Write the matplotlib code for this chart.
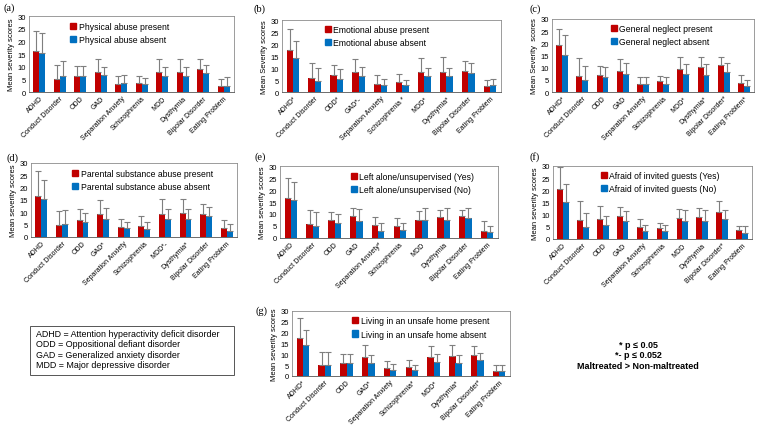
import matplotlib
matplotlib.use("Agg")
import matplotlib.pyplot as plt
import numpy as np
from matplotlib.patches import Patch, Rectangle

plt.rcParams['font.family'] = ['Liberation Sans', 'DejaVu Sans']

categories = ["ADHD", "Conduct Disorder", "ODD", "GAD", "Separation Anxiety",
              "Schizophrenia", "MDD", "Dysthymia", "Bipolar Disorder", "Eating Problem"]

# significance marks appended to category labels per panel
marks_a = ["", "", "", "", "", "", "", "", "", ""]
marks_b = ["*", "", "*", "*-", "", " *", "*", "*", "", ""]
marks_c = ["*", "", "", "", "", "", "*", "*", "*", "*"]
marks_d = ["", "", "", "*", "", "", "*-", "*", "", ""]
marks_e = ["", "", "", "", "*", "", "", "", "", ""]
marks_f = ["", "", "", "", "", "", "", "", "*", ""]
marks_g = ["*", "", "", "*", "", "*", "*", "*", "*", ""]

# (a) Physical abuse
a_present = [16.0, 5.0, 6.3, 7.7, 3.3, 3.6, 8.0, 8.0, 8.9, 2.5]
a_present_sd = [7.9, 5.7, 4.1, 5.2, 3.0, 2.8, 4.9, 4.9, 4.0, 2.8]
a_absent = [15.2, 6.3, 6.3, 6.6, 3.6, 3.0, 6.4, 6.4, 7.4, 2.5]
a_absent_sd = [8.0, 6.0, 4.1, 3.4, 3.0, 2.5, 3.6, 3.3, 3.4, 3.5]
# (b) Emotional abuse
b_present = [17.4, 5.7, 7.2, 8.2, 3.5, 4.1, 8.4, 8.4, 8.9, 2.5]
b_present_sd = [8.7, 6.5, 4.2, 5.4, 3.4, 3.2, 5.6, 6.0, 4.0, 2.7]
b_absent = [14.3, 4.6, 5.3, 6.7, 2.8, 2.75, 6.7, 6.6, 8.1, 2.75]
b_absent_sd = [6.9, 5.4, 4.1, 3.7, 2.8, 2.05, 3.5, 3.3, 3.9, 2.85]
# (c) General neglect
c_present = [19.2, 6.7, 7.1, 8.7, 3.1, 4.5, 9.5, 10.1, 11.0, 3.8]
c_present_sd = [6.8, 7.1, 3.5, 4.8, 3.0, 2.2, 4.7, 4.2, 3.3, 3.3]
c_absent = [15.1, 5.0, 6.0, 7.2, 3.4, 3.3, 7.2, 7.1, 8.3, 2.5]
c_absent_sd = [8.2, 5.6, 4.4, 4.7, 2.7, 2.7, 4.3, 4.4, 3.6, 2.5]
# (d) Parental substance abuse
d_present = [16.7, 4.9, 6.7, 9.3, 4.2, 4.3, 9.3, 9.6, 9.3, 3.5]
d_present_sd = [10.2, 5.8, 4.6, 5.8, 3.2, 4.1, 6.3, 5.7, 4.1, 3.5]
d_absent = [15.5, 5.3, 6.0, 7.1, 3.5, 3.3, 7.1, 7.1, 8.5, 2.5]
d_absent_sd = [7.5, 5.7, 3.9, 4.5, 2.5, 2.6, 4.3, 4.3, 3.6, 2.8]
# (e) Left alone/unsupervised
e_present = [16.8, 5.9, 7.7, 9.0, 5.4, 4.9, 7.7, 8.7, 9.0, 2.8]
e_present_sd = [8.1, 5.6, 3.1, 3.3, 3.5, 3.4, 3.4, 3.0, 2.7, 4.1]
e_absent = [15.8, 5.2, 6.1, 7.0, 3.1, 3.2, 7.5, 7.5, 8.5, 2.5]
e_absent_sd = [7.7, 5.8, 3.9, 5.0, 3.0, 2.9, 4.8, 4.9, 3.8, 2.7]
# (f) Afraid of invited guests
f_present = [20.4, 8.0, 8.4, 9.5, 5.0, 4.4, 8.7, 8.9, 11.0, 3.6]
f_present_sd = [9.0, 7.5, 5.1, 3.7, 3.3, 2.2, 3.5, 4.0, 4.8, 1.9]
f_absent = [15.3, 5.0, 5.9, 7.6, 3.4, 3.4, 7.6, 7.6, 8.4, 2.5]
f_absent_sd = [7.4, 5.5, 3.7, 4.1, 2.4, 2.4, 4.2, 4.2, 3.4, 2.7]
# (g) Living in an unsafe home
g_present = [17.7, 5.3, 6.1, 8.8, 3.8, 4.2, 8.6, 9.1, 9.6, 2.5]
g_present_sd = [9.0, 6.0, 4.1, 5.5, 3.0, 3.3, 5.4, 5.2, 4.4, 2.5]
g_absent = [14.1, 5.2, 6.0, 6.0, 2.8, 2.8, 6.6, 6.1, 7.4, 2.5]
g_absent_sd = [7.1, 5.8, 4.2, 3.9, 2.9, 2.4, 3.4, 3.6, 3.3, 2.5]

yticks = [0, 5, 10, 15, 20, 25, 30]

RED = '#C00000'
BLUE = '#0070C0'
ERR = '#7f7f7f'

W, H = 764, 431
fig = plt.figure(figsize=(W / 100, H / 100), dpi=100)


def px_axes(l, t, r, b):
    return fig.add_axes([l / W, 1 - b / H, (r - l) / W, (b - t) / H])


panels = [
    ("(a)", (29, 17, 234, 93), "Mean severity scores",
     ("Physical abuse present", "Physical abuse absent"), 0.20, 0.92,
     (a_present, a_present_sd, a_absent, a_absent_sd), marks_a, (3, 8)),
    ("(b)", (282, 21, 501, 93), "Mean Severity scores",
     ("Emotional abuse present", "Emotional abuse absent"), 0.195, 0.93,
     (b_present, b_present_sd, b_absent, b_absent_sd), marks_b, (254, 9)),
    ("(c)", (552, 20, 754, 93), "Mean Severity  scores",
     ("General neglect present", "General neglect absent"), 0.29, 0.93,
     (c_present, c_present_sd, c_absent, c_absent_sd), marks_c, (530, 9)),
    ("(d)", (31, 164, 237, 238), "Mean severity scores",
     ("Parental substance abuse present", "Parental substance abuse absent"), 0.20, 0.92,
     (d_present, d_present_sd, d_absent, d_absent_sd), marks_d, (7, 158)),
    ("(e)", (280, 167, 498, 239), "Mean severity scores",
     ("Left alone/unsupervised (Yes)", "Left alone/unsupervised (No)"), 0.325, 0.92,
     (e_present, e_present_sd, e_absent, e_absent_sd), marks_e, (255, 157)),
    ("(f)", (553, 167, 752, 240), "Mean severity scores",
     ("Afraid of invited guests (Yes)", "Afraid of invited guests (No)"), 0.24, 0.93,
     (f_present, f_present_sd, f_absent, f_absent_sd), marks_f, (530, 157)),
    ("(g)", (292, 312, 510, 377), "Mean severity scores",
     ("Living in an unsafe home present", "Living in an unsafe home absent"), 0.275, 0.92,
     (g_present, g_present_sd, g_absent, g_absent_sd), marks_g, (256, 311)),
]

bw = 0.29
x = np.arange(len(categories))
for letter, rect, ylab, leg, lx, ly, data, marks, lpos in panels:
    ax = px_axes(*rect)
    pm, psd, am, asd = data
    ax.bar(x - bw / 2, pm, bw, color=RED, zorder=2)
    ax.bar(x + bw / 2, am, bw, color=BLUE, zorder=2)
    ax.errorbar(x - bw / 2, pm, yerr=[np.zeros(len(pm)), psd], fmt='none',
                ecolor=ERR, elinewidth=0.8, capsize=2, capthick=0.8, zorder=3)
    ax.errorbar(x + bw / 2, am, yerr=[np.zeros(len(am)), asd], fmt='none',
                ecolor=ERR, elinewidth=0.8, capsize=2, capthick=0.8, zorder=3)
    ax.set_xlim(-0.5, len(categories) - 0.5)
    ax.set_ylim(0, 30)
    ax.set_yticks(yticks)
    ax.tick_params(axis='y', labelsize=5.5, length=0, pad=2)
    ax.tick_params(axis='x', length=0, pad=2)
    ax.set_xticks(x)
    ax.set_xticklabels([c + m for c, m in zip(categories, marks)], rotation=45,
                       ha='right', rotation_mode='anchor', fontsize=5)
    ax.set_ylabel(ylab, fontsize=5.5, labelpad=2)
    for s in ax.spines.values():
        s.set_color('#8c8c8c')
        s.set_linewidth(0.6)
    ax.spines['bottom'].set_color('#555555')
    handles = [Patch(color=RED), Patch(color=BLUE)]
    ax.legend(handles, leg, loc='upper left', bbox_to_anchor=(lx, ly), frameon=False,
              fontsize=6.2, handlelength=0.7, handleheight=0.7, handletextpad=0.3,
              labelspacing=0.5, borderpad=0, borderaxespad=0)
    fig.text(lpos[0] / W, 1 - lpos[1] / H, letter, fontsize=7.5,
             family=['Liberation Serif', 'DejaVu Serif'], va='center', ha='left')

# abbreviation box
fig.patches.append(Rectangle((30 / W, 1 - 376 / H), (234 - 30) / W, (376 - 327) / H,
                             transform=fig.transFigure, fill=False, edgecolor='#555555',
                             linewidth=0.7))
abbrev = ["ADHD = Attention hyperactivity deficit disorder",
          "ODD = Oppositional defiant disorder",
          "GAD = Generalized anxiety disorder",
          "MDD = Major depressive disorder"]
for i, t in enumerate(abbrev):
    fig.text(36 / W, 1 - (334.5 + i * 10.4) / H, t, fontsize=6.4, va='center', ha='left')

sig = ["* p \u2264 0.05", "*- p \u2264 0.052", "Maltreated > Non-maltreated"]
sig_y = [346, 356, 367]
for t, yy in zip(sig, sig_y):
    fig.text(638 / W, 1 - yy / H, t, fontsize=6.5, fontweight='bold', va='center', ha='center')

fig.savefig("out.png", dpi=100)
